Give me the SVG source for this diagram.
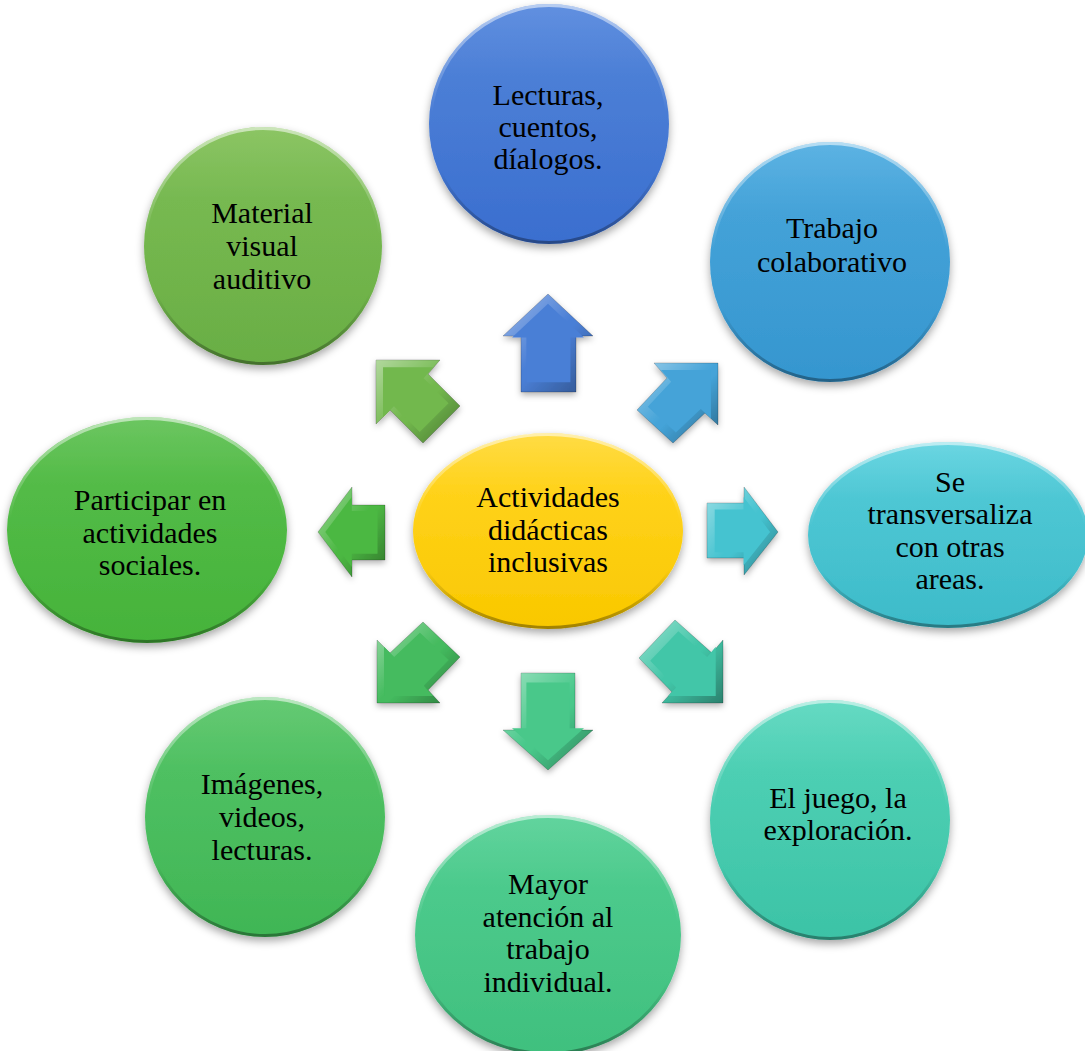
<svg xmlns="http://www.w3.org/2000/svg" xmlns:xlink="http://www.w3.org/1999/xlink" width="1085" height="1051" viewBox="0 0 1085 1051">
<style>
  .lbl { font-family: "Liberation Serif", "Times New Roman", serif; font-size: 30px; fill: #000; text-anchor: middle; }
  .rim { fill: none; stroke: url(#rimG); stroke-width: 3; }
  .bev { fill: url(#bevG); }
  .arr { stroke: rgba(0,0,0,0.25); stroke-width: 0.8; }
</style>
<defs>
  <filter id="sh" x="-20%" y="-20%" width="140%" height="150%">
    <feDropShadow dx="0" dy="4" stdDeviation="4" flood-color="#000" flood-opacity="0.35"/>
  </filter>
  <filter id="shA" x="-30%" y="-30%" width="160%" height="170%">
    <feDropShadow dx="0" dy="3" stdDeviation="3" flood-color="#000" flood-opacity="0.3"/>
  </filter>
  <linearGradient id="rimG" x1="0" y1="0" x2="0" y2="1">
    <stop offset="0" stop-color="#fff" stop-opacity="0.55"/>
    <stop offset="0.45" stop-color="#fff" stop-opacity="0"/>
    <stop offset="0.7" stop-color="#000" stop-opacity="0"/>
    <stop offset="1" stop-color="#000" stop-opacity="0.35"/>
  </linearGradient>
  <linearGradient id="bevG" x1="0" y1="0" x2="1" y2="1">
    <stop offset="0" stop-color="#fff" stop-opacity="0.45"/>
    <stop offset="0.5" stop-color="#fff" stop-opacity="0"/>
    <stop offset="0.55" stop-color="#000" stop-opacity="0"/>
    <stop offset="1" stop-color="#000" stop-opacity="0.35"/>
  </linearGradient>
  <linearGradient id="gTop" x1="0" y1="0" x2="0" y2="1"><stop offset="0" stop-color="#6190e0"/><stop offset="0.3" stop-color="#4c7fd6"/><stop offset="1" stop-color="#3a6ecf"/></linearGradient>
  <linearGradient id="gTR" x1="0" y1="0" x2="0" y2="1"><stop offset="0" stop-color="#5db3e3"/><stop offset="0.3" stop-color="#44a2d8"/><stop offset="1" stop-color="#3596cf"/></linearGradient>
  <linearGradient id="gR" x1="0" y1="0" x2="0" y2="1"><stop offset="0" stop-color="#6bd6e2"/><stop offset="0.3" stop-color="#4ec7d4"/><stop offset="1" stop-color="#3dbbc9"/></linearGradient>
  <linearGradient id="gBR" x1="0" y1="0" x2="0" y2="1"><stop offset="0" stop-color="#66dac3"/><stop offset="0.3" stop-color="#4dcfb3"/><stop offset="1" stop-color="#3cc3a6"/></linearGradient>
  <linearGradient id="gB" x1="0" y1="0" x2="0" y2="1"><stop offset="0" stop-color="#62d49e"/><stop offset="0.3" stop-color="#4cca8c"/><stop offset="1" stop-color="#40c07e"/></linearGradient>
  <linearGradient id="gBL" x1="0" y1="0" x2="0" y2="1"><stop offset="0" stop-color="#66ca74"/><stop offset="0.3" stop-color="#4fc062"/><stop offset="1" stop-color="#40b655"/></linearGradient>
  <linearGradient id="gL" x1="0" y1="0" x2="0" y2="1"><stop offset="0" stop-color="#6cc661"/><stop offset="0.3" stop-color="#53bb47"/><stop offset="1" stop-color="#45b33a"/></linearGradient>
  <linearGradient id="gTL" x1="0" y1="0" x2="0" y2="1"><stop offset="0" stop-color="#8cc564"/><stop offset="0.3" stop-color="#77b951"/><stop offset="1" stop-color="#69ae44"/></linearGradient>
  <linearGradient id="gC" x1="0" y1="0" x2="0" y2="1"><stop offset="0" stop-color="#ffdc45"/><stop offset="0.3" stop-color="#ffd21a"/><stop offset="1" stop-color="#f9c800"/></linearGradient>

  <polygon id="aU" points="548,294 593,336 576,336 576,392 521,392 521,336 503,336"/>
  <polygon id="aUR" points="654,363 718,363 718,425 705,413 673,443 637,410 667,378"/>
  <polygon id="aR" points="707,503 744,503 744,487 778,532 744,575 744,558 707,558"/>
  <polygon id="aDR" points="675,620 712,653 723,640 723,703 662,703 672,692 639,658"/>
  <polygon id="aD" points="521,673 575,673 575,730 593,730 548,770 503,730 521,730"/>
  <polygon id="aDL" points="423,622 460,657 428,690 440,703 377,703 377,640 390,653"/>
  <polygon id="aL" points="318,532 352,487 352,505 385,505 385,560 352,560 352,577"/>
  <polygon id="aUL" points="376,360 440,360 428,374 460,406 423,443 390,410 376,424"/>
</defs>
<rect width="1085" height="1051" fill="#ffffff"/>

<g id="connectors">
  <g id="arrow-up" filter="url(#shA)">
    <use href="#aU" fill="#4a7fd6" class="arr"/><use href="#aU" class="bev"/>
    <use href="#aU" fill="#4a7fd6" transform="translate(548 343) scale(0.8) translate(-548 -343)"/>
  </g>
  <g id="arrow-up-right" filter="url(#shA)">
    <use href="#aUR" fill="#44a3d8" class="arr"/><use href="#aUR" class="bev"/>
    <use href="#aUR" fill="#44a3d8" transform="translate(686 395) scale(0.78) translate(-686 -395)"/>
  </g>
  <g id="arrow-right" filter="url(#shA)">
    <use href="#aR" fill="#45c3d0" class="arr"/><use href="#aR" class="bev"/>
    <use href="#aR" fill="#45c3d0" transform="translate(742 532) scale(0.78) translate(-742 -532)"/>
  </g>
  <g id="arrow-down-right" filter="url(#shA)">
    <use href="#aDR" fill="#42c6a8" class="arr"/><use href="#aDR" class="bev"/>
    <use href="#aDR" fill="#42c6a8" transform="translate(690 671) scale(0.78) translate(-690 -671)"/>
  </g>
  <g id="arrow-down" filter="url(#shA)">
    <use href="#aD" fill="#48c88a" class="arr"/><use href="#aD" class="bev"/>
    <use href="#aD" fill="#48c88a" transform="translate(548 721) scale(0.8) translate(-548 -721)"/>
  </g>
  <g id="arrow-down-left" filter="url(#shA)">
    <use href="#aDL" fill="#44bb5e" class="arr"/><use href="#aDL" class="bev"/>
    <use href="#aDL" fill="#44bb5e" transform="translate(409 671) scale(0.78) translate(-409 -671)"/>
  </g>
  <g id="arrow-left" filter="url(#shA)">
    <use href="#aL" fill="#4cb843" class="arr"/><use href="#aL" class="bev"/>
    <use href="#aL" fill="#4cb843" transform="translate(351 532) scale(0.78) translate(-351 -532)"/>
  </g>
  <g id="arrow-up-left" filter="url(#shA)">
    <use href="#aUL" fill="#72b84d" class="arr"/><use href="#aUL" class="bev"/>
    <use href="#aUL" fill="#72b84d" transform="translate(408 393) scale(0.78) translate(-408 -393)"/>
  </g>
</g>

<g id="node-center">
  <ellipse cx="548" cy="531" rx="135" ry="98" fill="url(#gC)" filter="url(#sh)"/>
  <ellipse cx="548" cy="531" rx="133.5" ry="96.5" class="rim"/>
  <text class="lbl" x="548" y="507">Actividades</text>
  <text class="lbl" x="548" y="540">didácticas</text>
  <text class="lbl" x="548" y="572">inclusivas</text>
</g>

<g id="node-top">
  <circle cx="549" cy="124" r="120" fill="url(#gTop)" filter="url(#sh)"/>
  <circle cx="549" cy="124" r="118.5" class="rim"/>
  <text class="lbl" x="548" y="105">Lecturas,</text>
  <text class="lbl" x="548" y="137">cuentos,</text>
  <text class="lbl" x="548" y="169">díalogos.</text>
</g>

<g id="node-top-right">
  <circle cx="830" cy="262" r="120" fill="url(#gTR)" filter="url(#sh)"/>
  <circle cx="830" cy="262" r="118.5" class="rim"/>
  <text class="lbl" x="832" y="238">Trabajo</text>
  <text class="lbl" x="832" y="272">colaborativo</text>
</g>

<g id="node-right">
  <ellipse cx="948" cy="535" rx="140" ry="93" fill="url(#gR)" filter="url(#sh)"/>
  <ellipse cx="948" cy="535" rx="138.5" ry="91.5" class="rim"/>
  <text class="lbl" x="950" y="492">Se</text>
  <text class="lbl" x="950" y="524">transversaliza</text>
  <text class="lbl" x="950" y="557">con otras</text>
  <text class="lbl" x="950" y="589">areas.</text>
</g>

<g id="node-bottom-right">
  <circle cx="830" cy="820" r="120" fill="url(#gBR)" filter="url(#sh)"/>
  <circle cx="830" cy="820" r="118.5" class="rim"/>
  <text class="lbl" x="838" y="808">El juego, la</text>
  <text class="lbl" x="838" y="840">exploración.</text>
</g>

<g id="node-bottom">
  <ellipse cx="548" cy="935" rx="133" ry="120" fill="url(#gB)" filter="url(#sh)"/>
  <ellipse cx="548" cy="935" rx="131.5" ry="118.5" class="rim"/>
  <text class="lbl" x="548" y="894">Mayor</text>
  <text class="lbl" x="548" y="927">atención al</text>
  <text class="lbl" x="548" y="959">trabajo</text>
  <text class="lbl" x="548" y="992">individual.</text>
</g>

<g id="node-bottom-left">
  <circle cx="265" cy="817" r="120" fill="url(#gBL)" filter="url(#sh)"/>
  <circle cx="265" cy="817" r="118.5" class="rim"/>
  <text class="lbl" x="262" y="794">Imágenes,</text>
  <text class="lbl" x="262" y="827">videos,</text>
  <text class="lbl" x="262" y="860">lecturas.</text>
</g>

<g id="node-left">
  <ellipse cx="147" cy="530" rx="140" ry="113" fill="url(#gL)" filter="url(#sh)"/>
  <ellipse cx="147" cy="530" rx="138.5" ry="111.5" class="rim"/>
  <text class="lbl" x="150" y="510">Participar en</text>
  <text class="lbl" x="150" y="543">actividades</text>
  <text class="lbl" x="150" y="575">sociales.</text>
</g>

<g id="node-top-left">
  <circle cx="263" cy="246" r="119" fill="url(#gTL)" filter="url(#sh)"/>
  <circle cx="263" cy="246" r="117.5" class="rim"/>
  <text class="lbl" x="262" y="223">Material</text>
  <text class="lbl" x="262" y="256">visual</text>
  <text class="lbl" x="262" y="289">auditivo</text>
</g>
</svg>
